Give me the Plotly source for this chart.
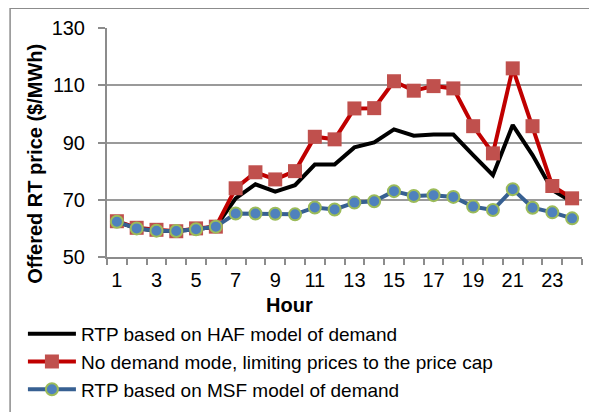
import plotly.graph_objects as go

hours = list(range(1, 25))
haf = [62.3, 60.0, 59.2, 59.1, 59.7, 60.6, 70.5, 75.4, 72.8, 75.1, 82.3, 82.3,
       88.3, 90.0, 94.6, 92.4, 92.8, 92.8, 85.6, 78.6, 96.1, 85.6, 73.4, 69.3]
no_demand = [62.5, 60.2, 59.5, 59.0, 60.0, 60.6, 74.0, 79.6, 77.1, 80.0, 92.0, 91.1,
             101.9, 102.0, 111.4, 108.1, 109.7, 108.9, 95.7, 86.2, 115.9, 95.7, 74.8, 70.5]
msf = [62.3, 60.0, 59.2, 59.1, 59.7, 60.6, 65.2, 65.2, 65.1, 64.9, 67.3, 66.6,
       69.0, 69.5, 73.0, 71.3, 71.6, 71.0, 67.6, 66.4, 73.7, 67.2, 65.6, 63.5]
x_ticks = list(range(1, 25, 2))
y_ticks = [50, 70, 90, 110, 130]

FONT = "Liberation Sans, Arial, sans-serif"
GRAY = "#8c8c8c"

fig = go.Figure()
fig.add_trace(go.Scatter(
    x=hours, y=haf, mode="lines", name="RTP based on HAF model of demand",
    line=dict(color="black", width=4), legendgroup="a"))
fig.add_trace(go.Scatter(
    x=hours, y=no_demand, mode="lines+markers",
    name="No demand mode, limiting prices to the price cap",
    line=dict(color="#C00000", width=4),
    marker=dict(symbol="square", size=14, color="#C0504D"), legendgroup="b"))
fig.add_trace(go.Scatter(
    x=hours, y=msf, mode="lines+markers", name="RTP based on MSF model of demand",
    line=dict(color="#376092", width=4),
    marker=dict(symbol="circle", size=12, color="#4F81BD",
                line=dict(color="#9BBB59", width=2)), legendgroup="c"))

# page body has an 8px margin, so the figure is a bit smaller than the window
fig.update_layout(
    width=589, height=404,
    margin=dict(l=99, r=15, t=20, b=155, autoexpand=False),
    paper_bgcolor="white", plot_bgcolor="white",
    font=dict(family=FONT, size=20, color="black"),
    showlegend=True,
    legend=dict(x=-0.177, y=-0.253, xanchor="left", yanchor="top",
                font=dict(size=19), tracegroupgap=0, itemwidth=48,
                bgcolor="rgba(0,0,0,0)"),
)
fig.update_xaxes(
    range=[0.5, 24.5], tickmode="array", tickvals=x_ticks,
    ticks="", showgrid=False, showline=True, linecolor=GRAY, linewidth=2,
    zeroline=False, ticklabelstandoff=4,
    minor=dict(tick0=0.5, dtick=1, ticks="outside", ticklen=6,
               tickcolor=GRAY, tickwidth=2, showgrid=False),
)
fig.update_yaxes(
    range=[50, 130], tickmode="array", tickvals=y_ticks,
    ticks="outside", ticklen=7, tickcolor=GRAY, tickwidth=2,
    ticklabelstandoff=9,
    showgrid=True, gridcolor="#9a9a9a", gridwidth=1.5,
    showline=True, linecolor=GRAY, linewidth=2, zeroline=False,
)

fig.add_annotation(text="<b>Offered RT price ($/MWh)</b>", textangle=-90,
                   xref="paper", yref="paper", x=-0.152, y=0.406,
                   xanchor="center", yanchor="middle",
                   showarrow=False, font=dict(size=20))
fig.add_annotation(text="<b>Hour</b>", xref="paper", yref="paper",
                   x=(289 - 107) / 475, y=-0.21, xanchor="center",
                   yanchor="middle", showarrow=False, font=dict(size=20))

# outer chart frame
fig.add_shape(type="rect", xref="paper", yref="paper",
              x0=-0.204, x1=1.2, y0=-0.9, y1=1.086,
              line=dict(color=GRAY, width=1.5), layer="below")

fig.write_html("out.html")
